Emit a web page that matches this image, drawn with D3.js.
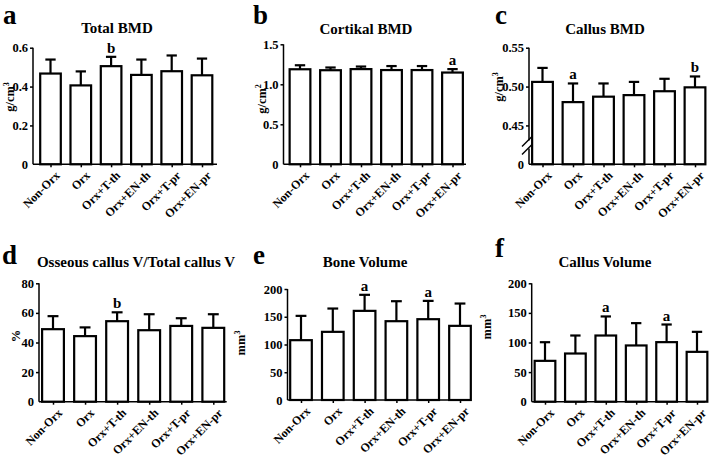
<!DOCTYPE html>
<html><head><meta charset="utf-8">
<script src="https://cdn.jsdelivr.net/npm/d3@7"></script>
<style>
body{margin:0;background:#fff}
svg{display:block}
text{font-family:"Liberation Serif","Tinos","Times New Roman",serif;font-weight:bold;fill:#000}
</style>
</head><body>
<svg id="chart" width="709" height="458"></svg>
<script>
// ---------- DATA ----------
const categories = ["Non-Orx","Orx","Orx+T-th","Orx+EN-th","Orx+T-pr","Orx+EN-pr"];

const totalBmdMean = [0.467, 0.406, 0.505, 0.460, 0.479, 0.458];
const totalBmdUpper = [0.539, 0.478, 0.553, 0.539, 0.560, 0.544];
const totalBmdSig = ["", "", "b", "", "", ""];
const totalBmdTicks = [0, 0.2, 0.4, 0.6];
const totalBmdTickLabels = ["0", "0.2", "0.4", "0.6"];

const cortBmdMean = [1.188, 1.176, 1.190, 1.178, 1.178, 1.147];
const cortBmdUpper = [1.238, 1.210, 1.222, 1.228, 1.228, 1.190];
const cortBmdSig = ["", "", "", "", "", "a"];
const cortBmdTicks = [0, 0.5, 1.0, 1.5];
const cortBmdTickLabels = ["0", "0.5", "1.0", "1.5"];

const callusBmdMean = [0.506, 0.480, 0.487, 0.489, 0.494, 0.499];
const callusBmdUpper = [0.524, 0.504, 0.504, 0.506, 0.510, 0.513];
const callusBmdSig = ["", "a", "", "", "", "b"];
const callusBmdTicks = [0.40, 0.45, 0.50, 0.55];
const callusBmdTickLabels = ["0", "0.45", "0.50", "0.55"];

const osseousMean = [49.0, 44.3, 54.4, 48.3, 51.2, 49.9];
const osseousUpper = [57.8, 50.2, 60.4, 59.1, 56.4, 59.1];
const osseousSig = ["", "", "b", "", "", ""];
const osseousTicks = [0, 20, 40, 60, 80];
const osseousTickLabels = ["0", "20", "40", "60", "80"];

const boneVolMean = [107.8, 122.8, 160.6, 142.0, 145.6, 133.6];
const boneVolUpper = [151.6, 164.8, 189.5, 178.0, 178.6, 173.8];
const boneVolSig = ["", "", "a", "", "a", ""];
const boneVolTicks = [0, 50, 100, 150, 200];
const boneVolTickLabels = ["0", "50", "100", "150", "200"];

const callusVolMean = [69.0, 81.4, 111.8, 95.0, 100.6, 84.2];
const callusVolUpper = [100.5, 111.8, 144.0, 132.7, 130.4, 118.0];
const callusVolSig = ["", "", "a", "", "a", ""];
const callusVolTicks = [0, 50, 100, 150, 200];
const callusVolTickLabels = ["0", "50", "100", "150", "200"];

const panelLetters = ["a", "b", "c", "d", "e", "f"];
const panelTitles = ["Total BMD", "Cortikal BMD", "Callus BMD", "Osseous callus V/Total callus V", "Bone Volume", "Callus Volume"];
const yLabels = [["g/cm", "3"], ["g/cm", "2"], ["g/cm", "3"], ["%", ""], ["mm", "3"], ["mm", "3"]];

// ---------- LAYOUT ----------
const layout = [
  {x0:33,  x1:217, yT:47.7, yB:164.3, c1:50.5, c6:202,  tx:117, ty:33,  lx:3,   ly:24,  yx:14,  yy:97},
  {x0:283.5,x1:466,yT:44.3, yB:164.3, c1:300,  c6:452.5,tx:366, ty:34,  lx:253, ly:24,  yx:266, yy:99},
  {x0:529, x1:704, yT:47.7, yB:164.3, c1:542.5,c6:695,  tx:605, ty:34,  lx:495, ly:24,  yx:503, yy:87},
  {x0:39,  x1:226.7,yT:283.3,yB:401.7,c1:53,   c6:213.3,tx:136, ty:267, lx:2,   ly:264, yx:20,  yy:336},
  {x0:287.5,x1:468.7,yT:289,yB:400,   c1:301,  c6:460,  tx:365, ty:267, lx:253, ly:264, yx:245, yy:343},
  {x0:531.7,x1:705, yT:283.3,yB:401.7,c1:545,  c6:697,  tx:605, ty:267, lx:495, ly:257, yx:491, yy:327}
];

const panels = [
  {mean: totalBmdMean, upper: totalBmdUpper, sig: totalBmdSig, ticks: totalBmdTicks, tickLabels: totalBmdTickLabels},
  {mean: cortBmdMean, upper: cortBmdUpper, sig: cortBmdSig, ticks: cortBmdTicks, tickLabels: cortBmdTickLabels},
  {mean: callusBmdMean, upper: callusBmdUpper, sig: callusBmdSig, ticks: callusBmdTicks, tickLabels: callusBmdTickLabels, brk: true},
  {mean: osseousMean, upper: osseousUpper, sig: osseousSig, ticks: osseousTicks, tickLabels: osseousTickLabels},
  {mean: boneVolMean, upper: boneVolUpper, sig: boneVolSig, ticks: boneVolTicks, tickLabels: boneVolTickLabels},
  {mean: callusVolMean, upper: callusVolUpper, sig: callusVolSig, ticks: callusVolTicks, tickLabels: callusVolTickLabels}
];

const svg = d3.select("#chart");
const FONT = "Liberation Serif, Tinos, Times New Roman, serif";

panels.forEach((p, i) => {
  const L = layout[i];
  const g = svg.append("g");
  const dom = [p.ticks[0], p.ticks[p.ticks.length - 1]];
  const y = d3.scaleLinear().domain(dom).range([L.yB, L.yT]);
  const x = d3.scalePoint().domain(categories).range([L.c1, L.c6]);
  const bw = x.step() * 0.68;
  const capW = bw * 0.5;
  const base = y(dom[0]);

  const data = categories.map((c, k) => ({c, m: p.mean[k], u: p.upper[k], s: p.sig[k]}));
  // error bars (drawn first, bar outline on top)
  g.selectAll("line.err").data(data).join("line")
    .attr("x1", d => x(d.c)).attr("x2", d => x(d.c))
    .attr("y1", d => y(d.m)).attr("y2", d => y(d.u))
    .attr("stroke", "#000").attr("stroke-width", 2.2);
  g.selectAll("line.cap").data(data).join("line")
    .attr("x1", d => x(d.c) - capW / 2).attr("x2", d => x(d.c) + capW / 2)
    .attr("y1", d => y(d.u)).attr("y2", d => y(d.u))
    .attr("stroke", "#000").attr("stroke-width", 2.2);
  // bars
  g.selectAll("rect.bar").data(data).join("rect")
    .attr("x", d => x(d.c) - bw / 2)
    .attr("y", d => y(d.m))
    .attr("width", bw)
    .attr("height", d => base - y(d.m))
    .attr("fill", "#fff").attr("stroke", "#000").attr("stroke-width", 2.2);
  // significance letters
  g.selectAll("text.sig").data(data.filter(d => d.s)).join("text")
    .attr("x", d => x(d.c)).attr("y", d => y(d.u) - 4)
    .attr("text-anchor", "middle").attr("font-size", 15).text(d => d.s);

  // y axis
  const ya = g.append("g").attr("transform", `translate(${L.x0},0)`)
    .call(d3.axisLeft(y).tickValues(p.ticks).tickSize(3).tickPadding(2)
      .tickFormat((d, k) => p.tickLabels[k]));
  ya.attr("font-family", FONT);
  ya.select(".domain").remove();
  ya.selectAll(".tick line").attr("stroke-width", 1.5)
    .attr("opacity", (d, k) => k === 0 ? 0 : 1);
  ya.selectAll(".tick text").attr("font-size", 12.5);
  if (p.brk) {
    const by1 = 140.5, by2 = 148.5;
    g.append("line").attr("x1", L.x0).attr("x2", L.x0).attr("y1", L.yT).attr("y2", by1)
      .attr("stroke", "#000").attr("stroke-width", 1.5);
    g.append("line").attr("x1", L.x0).attr("x2", L.x0).attr("y1", by2).attr("y2", base)
      .attr("stroke", "#000").attr("stroke-width", 1.5);
    [by1 + 1, by2 + 1].forEach(cy => {
      g.append("line").attr("x1", L.x0 - 7).attr("y1", cy + 5).attr("x2", L.x0 + 3).attr("y2", cy - 5)
        .attr("stroke", "#000").attr("stroke-width", 1.5);
    });
  } else {
    g.append("line").attr("x1", L.x0).attr("x2", L.x0).attr("y1", L.yT).attr("y2", base)
      .attr("stroke", "#000").attr("stroke-width", 1.5);
  }

  // x axis
  const xa = g.append("g").attr("transform", `translate(0,${base})`)
    .call(d3.axisBottom(x).tickSize(3).tickFormat(""));
  xa.select(".domain").remove();
  xa.selectAll(".tick line").attr("stroke-width", 1.5);
  g.append("line").attr("x1", L.x0).attr("x2", L.x1).attr("y1", base).attr("y2", base)
    .attr("stroke", "#000").attr("stroke-width", 1.5);
  g.selectAll("text.xl").data(categories).join("text")
    .attr("transform", d => `translate(${x(d) + 4},${base + 6}) rotate(-45)`)
    .attr("text-anchor", "end").attr("dy", "0.7em").attr("font-size", 12).text(d => d);

  // title, panel letter, y label
  g.append("text").attr("x", L.tx).attr("y", L.ty).attr("text-anchor", "middle")
    .attr("font-size", 15).text(panelTitles[i]);
  g.append("text").attr("x", L.lx).attr("y", L.ly).attr("font-size", 27).text(panelLetters[i]);
  const yl = g.append("text").attr("transform", `translate(${L.yx},${L.yy}) rotate(-90)`)
    .attr("text-anchor", "middle").attr("font-size", 12.5);
  yl.append("tspan").text(yLabels[i][0]);
  if (yLabels[i][1]) yl.append("tspan").attr("font-size", 8).attr("dy", -5).text(yLabels[i][1]);
});
</script>
</body></html>
